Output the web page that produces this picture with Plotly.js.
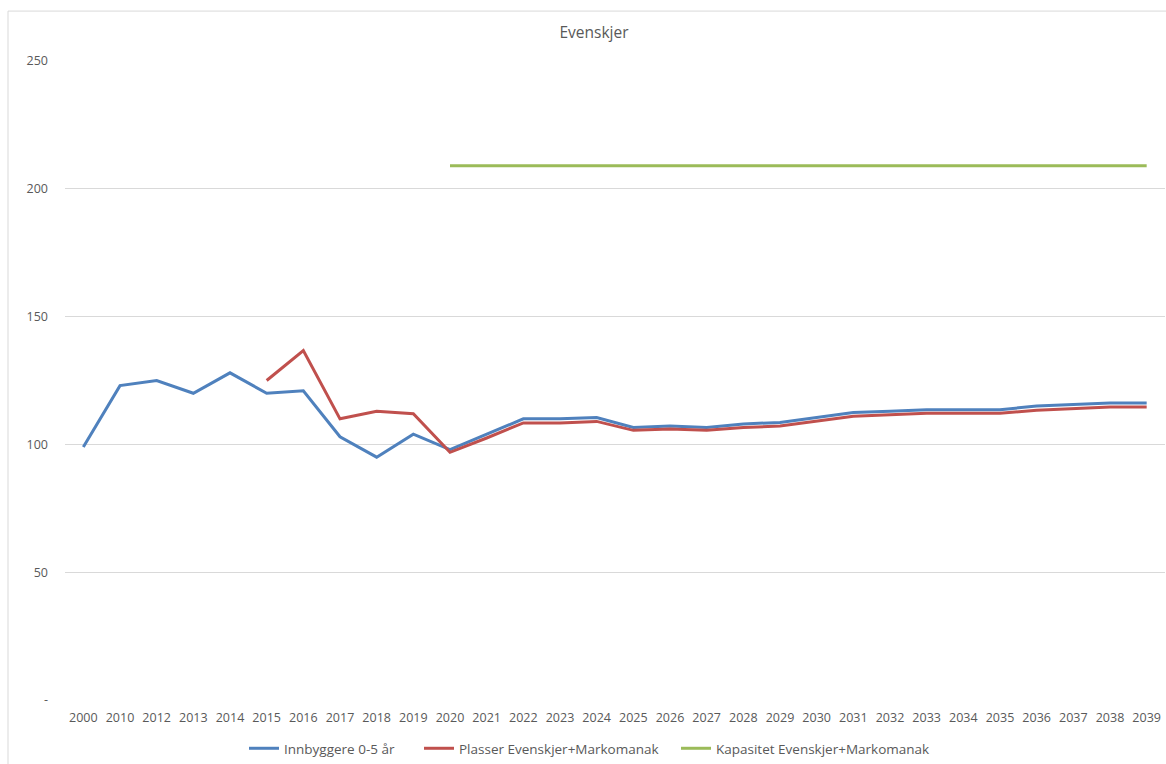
<!DOCTYPE html>
<html>
<head>
<meta charset="utf-8">
<script src="https://cdn.plot.ly/plotly-3.0.1.min.js"></script>
<style>
html,body{margin:0;padding:0;background:#fff;}
#chart{width:1166px;height:764px;}
</style>
</head>
<body>
<div id="chart"></div>
<script>
const years = ["2000","2010","2012","2013","2014","2015","2016","2017","2018","2019","2020","2021","2022","2023","2024","2025","2026","2027","2028","2029","2030","2031","2032","2033","2034","2035","2036","2037","2038","2039"];
const innbyggere = [99,123,125,120,128,120,121,103,95,104,98,104,110,110,110.5,106.6,107.2,106.6,108,108.6,110.5,112.5,113,113.6,113.6,113.6,115,115.6,116.2,116.2];
const plasser = [null,null,null,null,null,125,136.7,110,113,112,96.9,102.5,108.4,108.4,109,105.5,106,105.5,106.6,107.2,109,111,111.6,112.2,112.2,112.2,113.4,114,114.6,114.6];
const kapasitet = [null,null,null,null,null,null,null,null,null,null,209,209,209,209,209,209,209,209,209,209,209,209,209,209,209,209,209,209,209,209];
const yTickVals = [0,50,100,150,200,250];
const yTickText = ["-","50","100","150","200","250"];

const font = "Open Sans, Noto Sans, sans-serif";
const traces = [
  {x: years, y: innbyggere, name: "Innbyggere 0-5 år", type: "scatter", mode: "lines",
   line: {color: "#4F81BD", width: 3}, legend: "legend"},
  {x: years, y: plasser, name: "Plasser Evenskjer+Markomanak", type: "scatter", mode: "lines",
   line: {color: "#C0504D", width: 3}, connectgaps: false, legend: "legend2"},
  {x: years, y: kapasitet, name: "Kapasitet Evenskjer+Markomanak", type: "scatter", mode: "lines",
   line: {color: "#9BBB59", width: 3}, connectgaps: false, legend: "legend3"}
];
const W = 1100, H = 640, L = 65, T = 61;
function leg(textStartPx) {
  return {orientation: "h", x: (textStartPx - 40 - L)/W, xanchor: "left", y: -48/H, yanchor: "middle",
          font: {family: font, size: 13.5, color: "#595959"}, itemwidth: 30,
          bgcolor: "rgba(0,0,0,0)", borderwidth: 0};
}
const layout = {
  width: 1166, height: 764,
  margin: {l: L, r: 1, t: T, b: 63},
  paper_bgcolor: "#fff", plot_bgcolor: "#fff",
  font: {family: font, color: "#595959", size: 12},
  title: {text: "Evenskjer", font: {family: font, size: 15.5, color: "#595959"},
          xref: "container", x: 594/1166, xanchor: "center",
          yref: "container", y: 1 - 33/764, yanchor: "middle"},
  xaxis: {type: "category", categoryorder: "array", categoryarray: years,
          range: [-0.5, 29.5], showgrid: false, zeroline: false, showline: false,
          ticks: "", ticklabelstandoff: 8,
          tickfont: {family: font, size: 12.5, color: "#595959"}, fixedrange: true},
  yaxis: {range: [0, 250], tickvals: yTickVals, ticktext: yTickText,
          showgrid: true, gridcolor: "#D9D9D9", gridwidth: 1, zeroline: false,
          showline: false, ticks: "", ticklabelstandoff: 16,
          tickfont: {family: font, size: 12.5, color: "#595959"}, fixedrange: true},
  showlegend: true,
  legend: leg(284),
  legend2: leg(459),
  legend3: leg(716),
  shapes: [
    {type: "line", xref: "paper", yref: "paper", x0: (8-L)/W, x1: (1166-L)/W,
     y0: 1 + (T-11)/H, y1: 1 + (T-11)/H, line: {color: "#D9D9D9", width: 1}},
    {type: "line", xref: "paper", yref: "paper", x0: (8-L)/W, x1: (8-L)/W,
     y0: 1 + (T-11)/H, y1: -(764-T-H)/H - 0.01, line: {color: "#D9D9D9", width: 1}}
  ]
};
Plotly.newPlot("chart", traces, layout, {displayModeBar: false, staticPlot: true});
</script>
</body>
</html>
